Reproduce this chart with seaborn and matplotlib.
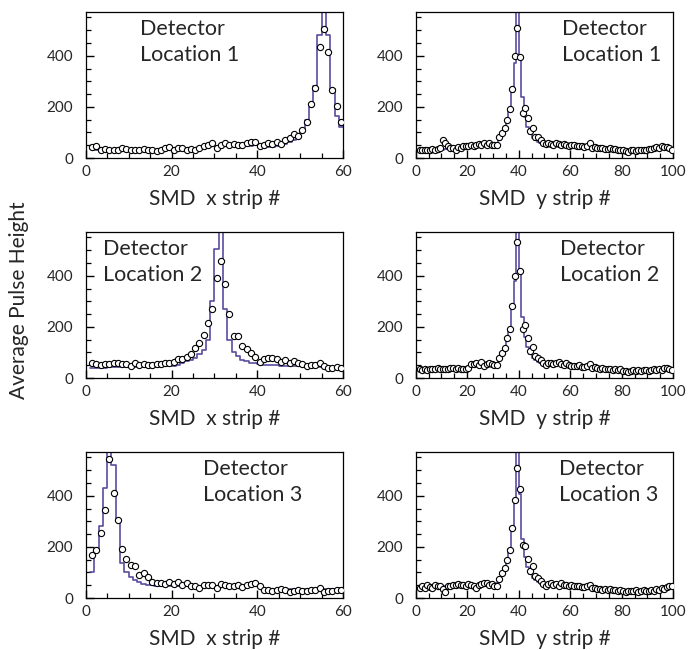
import numpy as np
import pandas as pd
import matplotlib
matplotlib.use("Agg")
import matplotlib.pyplot as plt
from matplotlib.ticker import MultipleLocator
import seaborn as sns

# ---------------- data ----------------
# x-strip panels: bins 1..59 ; y-strip panels: bins 1..99
hist_x1 = [35,33,30,30,28,30,30,32,30,30,
           30,30,30,30,32,30,30,33,35,35,
           38,38,40,40,40,38,40,42,45,45,
           45,45,48,48,48,45,45,48,50,50,
           42,42,44,46,50,55,62,72,88,108,
           150,200,280,480,900,480,270,165,120]
circ_x1 = [42,45,33,35,30,33,32,38,36,33,
           32,33,35,33,30,28,32,38,44,33,
           40,40,32,36,33,38,45,50,60,40,
           52,58,52,55,52,52,58,62,62,45,
           52,60,55,62,55,70,80,95,88,108,
           140,210,275,435,505,415,265,205,140]

hist_y1 = [22,24,25,26,27,28,28,30,30,32,
           35,42,45,45,45,46,46,47,47,48,
           48,48,50,50,50,50,52,52,52,55,
           58,70,90,115,150,190,260,370,900,400,
           240,160,120,95,80,70,62,58,55,55,
           55,55,55,55,52,52,50,50,48,48,
           47,46,45,45,44,43,42,40,40,38,
           37,36,35,35,34,34,33,32,31,30,
           30,28,28,30,30,30,30,31,32,32,
           33,35,36,38,40,40,42,40,25]
circ_y1 = [30,32,30,33,32,35,33,35,38,70,
           58,45,40,38,30,42,40,45,48,45,
           50,48,52,55,50,58,52,60,50,52,
           51,84,97,117,150,190,268,400,509,397,
           178,197,157,107,117,84,84,70,60,55,
           58,55,52,58,55,50,56,50,48,52,
           50,45,48,46,42,45,58,40,42,40,
           38,40,36,35,38,34,35,32,30,32,
           28,25,30,32,28,30,32,30,33,35,
           35,38,42,40,45,42,44,38,30]

hist_x2 = [38,40,40,40,42,42,42,42,42,42,
           42,42,42,42,44,44,45,45,46,48,
           52,58,65,72,80,92,110,150,300,505,
           900,268,150,100,85,72,65,60,58,55,
           50,50,50,50,48,48,48,46,46,45,
           45,44,44,43,42,42,42,40,40]
circ_x2 = [58,56,52,54,55,60,58,55,54,45,
           58,52,55,50,52,56,55,58,60,64,
           74,74,84,95,117,137,170,216,271,391,
           459,368,251,163,166,124,113,97,84,64,
           74,78,78,74,64,71,60,68,58,55,
           47,51,49,60,45,41,41,42,40]

hist_y2 = [28,30,30,30,32,32,32,33,33,33,
           33,34,34,35,35,35,34,34,34,35,
           48,50,50,50,50,50,50,50,50,52,
           58,70,90,115,150,190,280,380,900,426,
           240,160,120,95,80,70,62,58,55,55,
           55,55,55,55,52,52,50,50,48,48,
           47,46,45,45,44,43,40,38,36,35,
           35,34,34,33,33,32,32,31,30,30,
           30,28,28,28,30,30,30,31,32,32,
           33,34,35,35,36,38,38,36,30]
circ_y2 = [35,32,35,33,34,36,34,38,35,36,
           36,35,38,40,34,38,36,35,34,38,
           55,55,58,50,62,48,55,60,55,52,
           50,80,97,117,155,190,281,400,531,420,
           190,208,157,107,120,85,80,70,60,52,
           58,60,55,58,62,55,52,58,50,48,
           48,45,50,44,42,45,55,40,42,38,
           36,38,35,34,36,32,34,30,35,28,
           28,25,28,30,26,30,28,32,30,28,
           32,35,30,36,33,40,38,35,32]

hist_x3 = [100,190,280,430,900,520,300,135,100,82,
           70,62,56,52,50,48,47,46,46,46,
           46,46,46,47,47,47,47,48,48,48,
           48,48,49,49,49,50,50,50,50,50,
           35,34,34,34,34,34,34,34,34,34,
           34,34,34,34,35,35,35,36,38]
circ_x3 = [170,186,255,345,542,409,304,193,153,130,
           124,91,97,82,64,60,58,55,62,55,
           62,52,58,48,45,40,52,52,50,40,
           55,50,45,48,50,42,52,55,58,45,
           30,30,28,30,35,30,25,28,32,28,
           28,30,30,40,25,28,28,30,30]

hist_y3 = [35,38,40,40,42,42,44,44,45,45,
           45,46,46,47,48,48,48,48,48,48,
           48,48,48,48,48,48,50,50,50,52,
           58,70,90,115,150,190,270,380,900,405,
           230,160,120,95,80,70,62,58,55,52,
           52,52,52,52,50,50,50,48,48,46,
           45,45,44,44,43,42,40,38,36,35,
           34,33,32,32,31,30,30,29,28,28,
           28,28,28,28,28,28,28,29,30,30,
           30,32,32,33,35,38,45,55,50]
circ_y3 = [40,45,38,50,42,40,52,45,48,35,
           25,45,48,52,50,55,52,50,48,55,
           52,45,40,52,55,60,58,52,55,48,
           45,74,97,117,150,186,275,383,509,428,
           209,203,154,107,124,87,78,65,55,48,
           55,58,52,55,48,58,52,50,45,52,
           48,45,48,44,42,45,52,40,38,35,
           35,32,34,30,35,30,32,28,30,28,
           25,28,26,28,30,25,28,30,28,26,
           30,28,35,32,38,36,42,48,45]

panel_labels = ["Detector\nLocation 1", "Detector\nLocation 2", "Detector\nLocation 3"]
xlabels = ["SMD  x strip #", "SMD  y strip #"]
ylabel = "Average Pulse Height"
yticks = [0, 200, 400]

# ---------------- style ----------------
sns.set_style("ticks")
plt.rcParams['font.family'] = ['Lato', 'DejaVu Sans']

line_color = "#5a4b9f"

fig = plt.figure(figsize=(6.88, 6.5), dpi=100)
W, H = 688.0, 650.0
lefts = [85.7 / W, 415.7 / W]
aw = 257.5 / W
ah = 145.7 / H
bottoms = [1 - 158 / H, 1 - 378 / H, 1 - 598 / H]

panels = [
    (0, 0, hist_x1, circ_x1, 60, 0.21),
    (0, 1, hist_y1, circ_y1, 100, 0.567),
    (1, 0, hist_x2, circ_x2, 60, 0.066),
    (1, 1, hist_y2, circ_y2, 100, 0.56),
    (2, 0, hist_x3, circ_x3, 60, 0.455),
    (2, 1, hist_y3, circ_y3, 100, 0.557),
]

for row, col, hv, cv, xmax, tx in panels:
    ax = fig.add_axes([lefts[col], bottoms[row], aw, ah])
    n = len(hv)
    centers = np.arange(1, n + 1) + 0.5
    df = pd.DataFrame({"strip": centers, "hist": hv, "circ": cv})
    sns.histplot(data=df, x="strip", weights="hist", binwidth=1, binrange=(1, n + 1),
                 element="step", fill=False, color=line_color, linewidth=1.2, ax=ax)
    sns.scatterplot(data=df, x="strip", y="circ", marker="o", s=20, color="white",
                    edgecolor="black", linewidth=0.8, ax=ax, zorder=3)
    ax.set_xlim(0, xmax)
    ax.set_ylim(0, 570)
    ax.set_yticks(yticks)
    ax.yaxis.set_minor_locator(MultipleLocator(50))
    ax.xaxis.set_major_locator(MultipleLocator(20))
    ax.xaxis.set_minor_locator(MultipleLocator(5))
    ax.tick_params(which="both", direction="in", top=False, right=False,
                   labelsize=11, color="black")
    ax.tick_params(which="major", length=6, width=1)
    ax.tick_params(which="minor", length=3.5, width=0.9)
    ax.tick_params(axis="y", pad=9)
    ax.tick_params(axis="x", pad=5)
    for s in ax.spines.values():
        s.set_visible(True)
        s.set_linewidth(0.9)
        s.set_color("black")
    ax.set_ylabel("")
    ax.set_xlabel(xlabels[col], fontsize=15, labelpad=7)
    ax.text(tx, 0.955, panel_labels[row], transform=ax.transAxes, ha="left", va="top",
            fontsize=15.5, linespacing=1.4)

fig.text(19 / W, 1 - 300 / H, ylabel, rotation=90, ha="center", va="center", fontsize=15)

fig.savefig("out.png", dpi=100)
